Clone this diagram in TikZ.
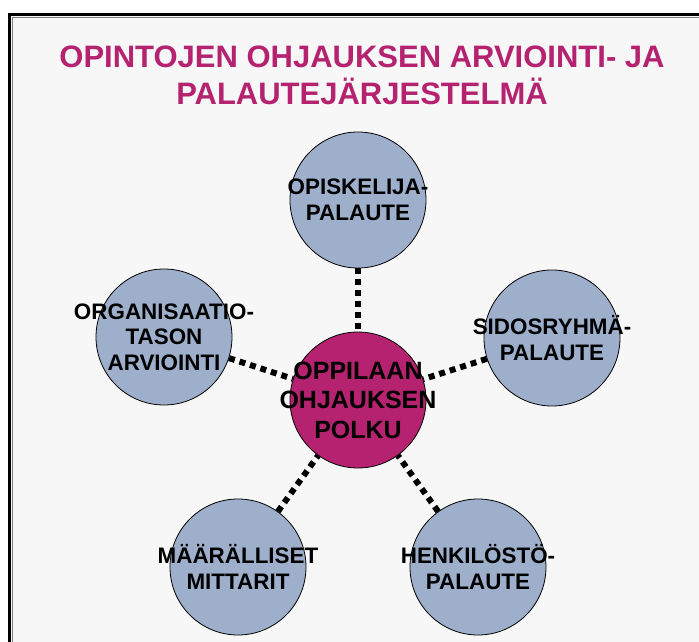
\documentclass[tikz,border=0pt]{standalone}
\usepackage{fontspec}
\setmainfont{Liberation Sans}
\usetikzlibrary{positioning}
\definecolor{ttlred}{RGB}{181,34,111}
\definecolor{ballblue}{RGB}{157,175,203}
\definecolor{pagegray}{RGB}{247,247,247}
\begin{document}
\begin{tikzpicture}[x=1pt,y=-1pt,
  b/.style={circle,draw,line width=0.8pt,fill=ballblue,minimum size=136pt,inner sep=-60pt,align=center,font=\bfseries\fontsize{22.4}{25.5}\selectfont},
  c/.style={b,fill=ttlred,font=\bfseries\fontsize{25}{29.5}\selectfont},
  d/.style={line width=6pt,dash pattern=on 6pt off 5pt}]
  \useasboundingbox (0,0) rectangle (699,642);
  \clip (0,0) rectangle (699,642);
  \fill[white] (0,0) rectangle (699,642);
  \filldraw[fill=pagegray,draw=black,line width=3pt] (9.5,14.5) rectangle (720,680);
  \draw[gray,line width=0.8pt] (12.5,17.5) rectangle (717,677);

  \node[align=center,text=ttlred,font=\bfseries\fontsize{31}{37}\selectfont] (ttl) at (362,75) {OPINTOJEN OHJAUKSEN ARVIOINTI- JA\\PALAUTEJÄRJESTELMÄ};

  \node[c] (pol) at (358,400) {OPPILAAN\\OHJAUKSEN\\POLKU};
  \node[b] (opi) at (358,200) {OPISKELIJA-\\PALAUTE};
  \node[b] (org) at (164,337) {ORGANISAATIO-\\TASON\\ARVIOINTI};
  \node[b] (sid) at (552,338) {SIDOSRYHMÄ-\\PALAUTE};
  \node[b] (maa) at (238,567) {MÄÄRÄLLISET\\MITTARIT};
  \node[b] (hen) at (478,567) {HENKILÖSTÖ-\\PALAUTE};

  \draw[d] (opi) -- (pol);
  \draw[d] (org) -- (pol);
  \draw[d] (sid) -- (pol);
  \draw[d] (maa) -- (pol);
  \draw[d] (hen) -- (pol);
\end{tikzpicture}
\end{document}
